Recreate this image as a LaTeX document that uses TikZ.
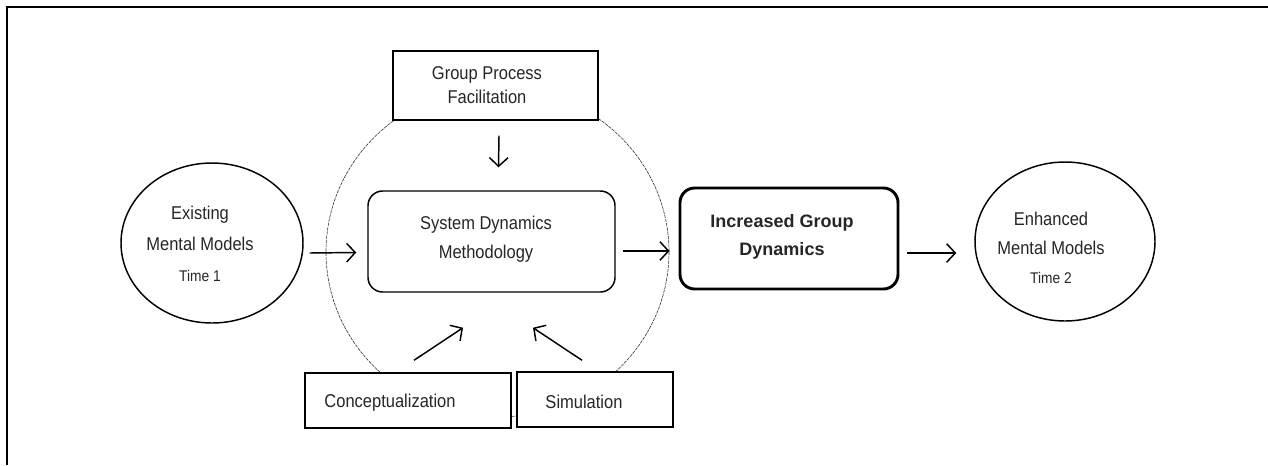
\documentclass[tikz,border=0pt]{standalone}
\usepackage{fontspec}
\setmainfont{Liberation Sans}[FakeStretch=0.89]
\newfontfamily\widefont{Liberation Sans}
\usetikzlibrary{arrows.meta,shapes.geometric,calc}
\begin{document}
\begin{tikzpicture}[x=0.75pt,y=-0.75pt,
  txt/.style={font=\fontsize{13.9}{18}\selectfont, align=center, inner sep=0pt, text=black!85},
  boxnode/.style={draw, line width=1.1pt, fill=white, inner sep=0pt},
  roundbox/.style={boxnode, rounded corners=11pt},
  oval/.style={draw, ellipse, line width=1.1pt, fill=white, inner sep=0pt},
  arr/.style={line width=1.1pt, -{Straight Barb[length=6.5pt,width=14pt,line width=1.1pt]}},
  frameline/.style={line width=1.5pt}
]
\useasboundingbox (0,0) rectangle (1268,465);
% frame
\coordinate (fbl) at (7,465);
\coordinate (ftl) at (7,7);
\coordinate (ftr) at (1268,7);
\draw[frameline] (fbl) -- (ftl) -- (ftr);
% large dashed circle
\draw[line width=0.45pt, dash pattern=on 2.5pt off 0.7pt, black!80] (497.5,252) ellipse [x radius=171.5, y radius=165];
% boxes
\node[boxnode, minimum width=205*0.75pt, minimum height=69*0.75pt] (group) at (495.5,85.5) {};
\node[txt, font=\fontsize{13.9}{18}\selectfont] (grouptxt) at (487,85) {Group Process\\Facilitation};
\node[roundbox, minimum width=247*0.75pt, minimum height=101*0.75pt] (sd) at (491.5,241.5) {};
\node[txt, font=\fontsize{13.9}{21.75}\selectfont] (sdtxt) at (486,239) {System Dynamics\\Methodology};
\node[roundbox, line width=2.2pt, rounded corners=11pt, minimum width=218*0.75pt, minimum height=101*0.75pt] (igd) at (789,238.5) {};
\node[txt, font=\widefont\bfseries\fontsize{13.5}{21}\selectfont] (igdtxt) at (782,236.5) {Increased Group\\Dynamics};
\node[oval, minimum width=182*0.75pt, minimum height=160*0.75pt] (ex) at (212,243) {};
\node[txt, font=\fontsize{13.9}{23}\selectfont] (extxt) at (200,244) {Existing\\Mental Models\\{\fontsize{11.6}{12}\selectfont Time 1}};
\node[oval, minimum width=180*0.75pt, minimum height=159*0.75pt] (en) at (1065,241.5) {};
\node[txt, font=\fontsize{13.9}{21.75}\selectfont] (entxt) at (1051,248) {Enhanced\\Mental Models\\{\fontsize{11.6}{12}\selectfont Time 2}};
\node[boxnode, minimum width=206*0.75pt, minimum height=55*0.75pt] (concept) at (408,400.5) {};
\node[txt] (concepttxt) at (390,403) {Conceptualization};
\node[boxnode, minimum width=156*0.75pt, minimum height=55*0.75pt] (sim) at (595,399.5) {};
\node[txt] (simtxt) at (584,402) {Simulation};
% arrows
\draw[arr] ($(group.south)+(3.5,15)$) -- ($(sd.north)+(7,-23)$);
\draw[arr] ($(ex.east)+(6,10)$) -- ($(sd.west)+(-11,11)$);
\draw[arr] ($(sd.east)+(7,9.5)$) -- ($(igd.west)+(-9,12.5)$);
\draw[arr] ($(igd.east)+(8,14.5)$) -- ($(en.west)+(-18,11.5)$);
\draw[arr] ($(concept.north)+(6,-12)$) -- ($(sd.south)+(-28.5,35)$);
\draw[arr] ($(sim.north)+(-13,-11)$) -- ($(sd.south)+(41.5,35)$);
\end{tikzpicture}
\end{document}
